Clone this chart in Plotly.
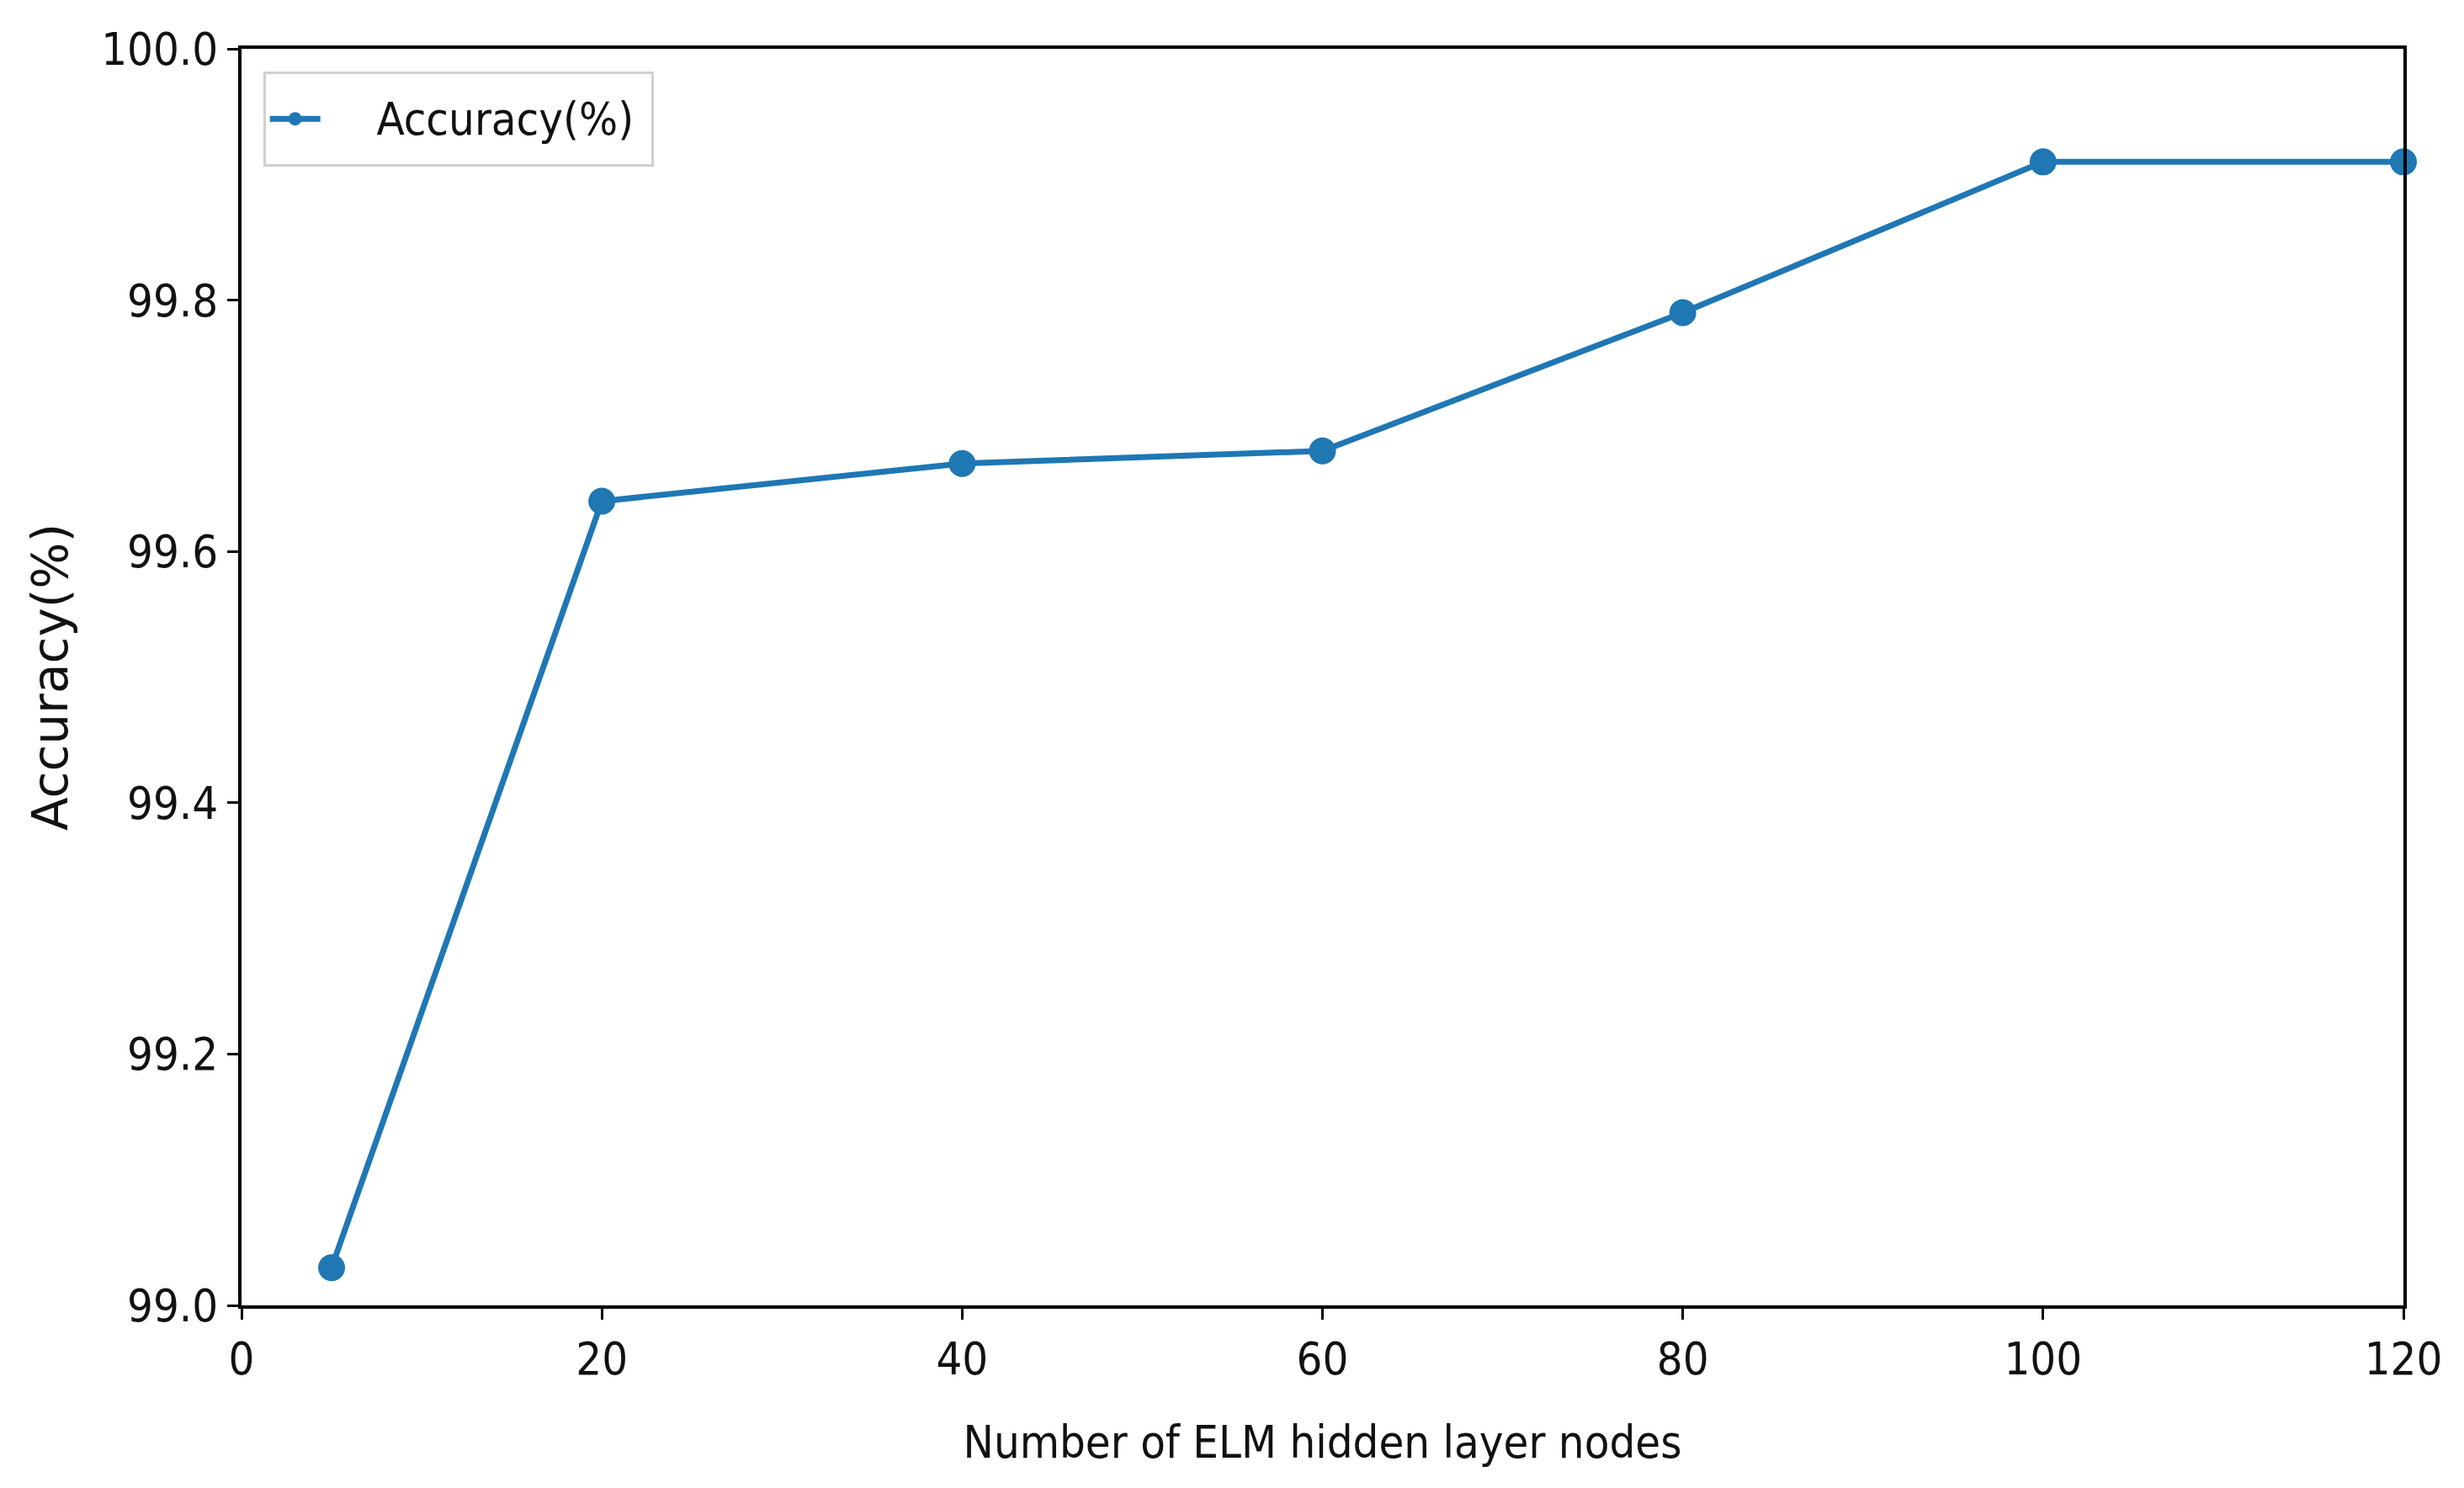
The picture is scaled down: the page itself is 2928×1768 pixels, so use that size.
import plotly.graph_objects as go

nodes = [5, 20, 40, 60, 80, 100, 120]
accuracy = [99.03, 99.64, 99.67, 99.68, 99.79, 99.91, 99.91]
x_ticks = [0, 20, 40, 60, 80, 100, 120]
y_ticks = [99.0, 99.2, 99.4, 99.6, 99.8, 100.0]
series_name = "Accuracy(%)"

FONT = "DejaVu Sans Condensed, DejaVu Sans, sans-serif"
BLUE = "#1f77b4"
NB = "\u00a0"

legend_label = ("<span style='font-size:54px;baseline-shift:9px'>"
                + NB * 4 + series_name + NB + "</span>")

fig = go.Figure()
fig.add_trace(go.Scatter(
    x=nodes, y=accuracy, mode="lines+markers",
    name=legend_label,
    line=dict(color=BLUE, width=7),
    marker=dict(color=BLUE, size=32),
    cliponaxis=False,
))

fig.update_layout(
    width=2928, height=1768,
    margin=dict(l=279, r=80, t=50, b=225),
    paper_bgcolor="white", plot_bgcolor="white",
    font=dict(family=FONT, size=50, color="#111111"),
    showlegend=True,
    legend=dict(
        x=0.01, y=0.982, xanchor="left", yanchor="top",
        bgcolor="white", bordercolor="#d0d0d0", borderwidth=3,
        font=dict(family=FONT, size=72, color="#111111"),
        itemwidth=60,
    ),
    xaxis=dict(
        range=[0, 120], tickvals=x_ticks, ticktext=[str(v) for v in x_ticks],
        showgrid=False, zeroline=False,
        showline=True, linecolor="black", linewidth=4, mirror=True,
        ticks="outside", ticklen=13, tickwidth=3, tickcolor="black",
        tickfont=dict(family=FONT, size=54),
        title=dict(text="Number of ELM hidden layer nodes", font=dict(family=FONT, size=54), standoff=50),
    ),
    yaxis=dict(
        range=[99.0, 100.0], tickvals=y_ticks, ticktext=[f"{v:.1f}" for v in y_ticks],
        showgrid=False, zeroline=False,
        showline=True, linecolor="black", linewidth=4, mirror=True,
        ticks="outside", ticklen=13, tickwidth=3, tickcolor="black",
        tickfont=dict(family=FONT, size=54),
        title=dict(text=series_name, font=dict(family="DejaVu Sans, sans-serif", size=58), standoff=22),
    ),
)

fig.write_html("out.html")
